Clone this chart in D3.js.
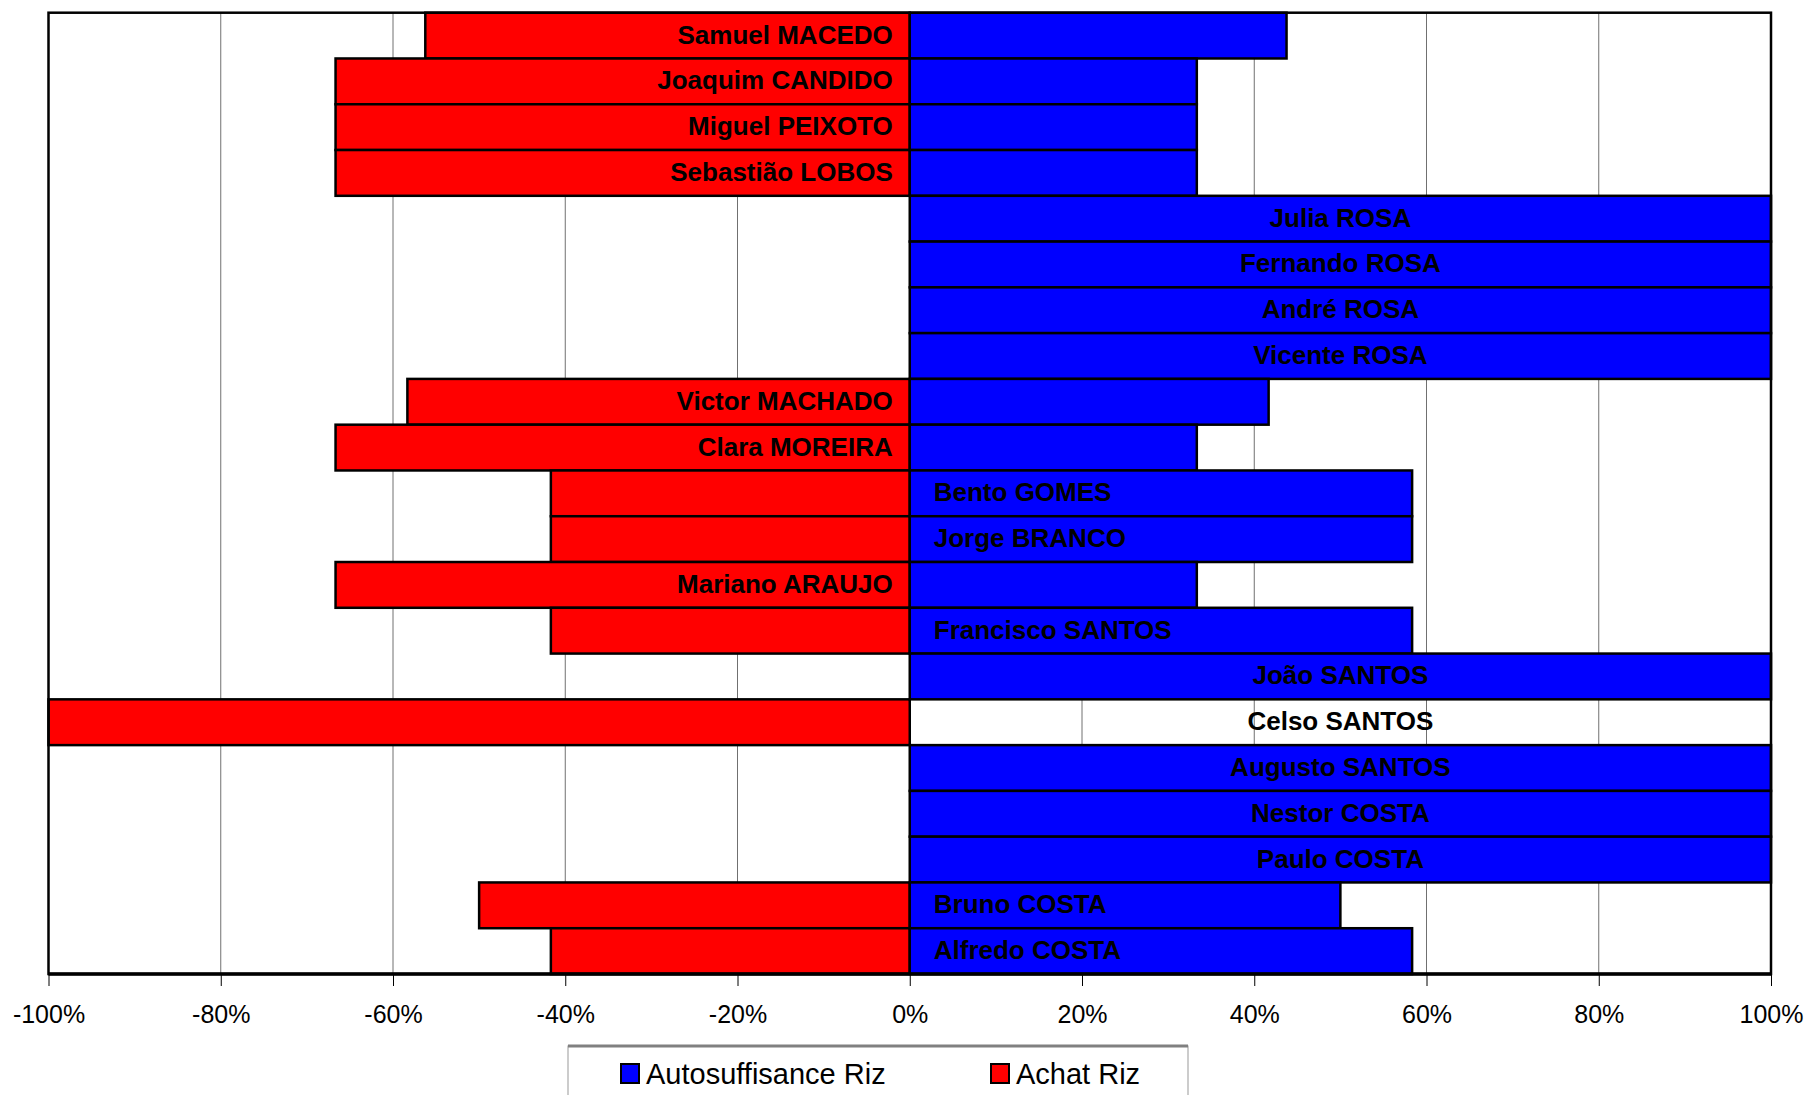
<!DOCTYPE html>
<html>
<head>
<meta charset="utf-8">
<script src="https://cdn.jsdelivr.net/npm/d3@7"></script>
<style>
  html, body { margin: 0; padding: 0; background: #fff; }
  svg { display: block; }
  text { font-family: "Liberation Sans", Arial, sans-serif; }
</style>
</head>
<body>
<svg id="chart" width="1809" height="1095"></svg>
<script>
// ---- data ----
const categories = [
  "Samuel MACEDO", "Joaquim CANDIDO", "Miguel PEIXOTO", "Sebastião LOBOS",
  "Julia ROSA", "Fernando ROSA", "André ROSA", "Vicente ROSA",
  "Victor MACHADO", "Clara MOREIRA", "Bento GOMES", "Jorge BRANCO",
  "Mariano ARAUJO", "Francisco SANTOS", "João SANTOS", "Celso SANTOS",
  "Augusto SANTOS", "Nestor COSTA", "Paulo COSTA", "Bruno COSTA", "Alfredo COSTA"
];
const autosuffisance = [
  0.4375, 0.3333, 0.3333, 0.3333,
  1, 1, 1, 1,
  0.4167, 0.3333, 0.5833, 0.5833,
  0.3333, 0.5833, 1, 0,
  1, 1, 1, 0.5, 0.5833
];
const achat = [
  -0.5625, -0.6667, -0.6667, -0.6667,
  0, 0, 0, 0,
  -0.5833, -0.6667, -0.4167, -0.4167,
  -0.6667, -0.4167, 0, -1,
  0, 0, 0, -0.5, -0.4167
];
const tickValues = [-1, -0.8, -0.6, -0.4, -0.2, 0, 0.2, 0.4, 0.6, 0.8, 1];
const tickLabels = ["-100%", "-80%", "-60%", "-40%", "-20%", "0%", "20%", "40%", "60%", "80%", "100%"];
const seriesNames = ["Autosuffisance Riz", "Achat Riz"];
const seriesColors = ["#0000FF", "#FF0000"];

// ---- layout ----
const svg = d3.select("#chart");
const pLeft = 48.5, pRight = 1771, pTop = 12.7, pBottom = 974;

const x = d3.scaleLinear().domain([-1, 1]).range([pLeft, pRight]);
const y = d3.scaleBand().domain(categories).range([pTop, pBottom]).paddingInner(0).paddingOuter(0);

// gridlines
svg.append("g").selectAll("line").data(tickValues).join("line")
  .attr("x1", d => x(d)).attr("x2", d => x(d))
  .attr("y1", pTop).attr("y2", pBottom)
  .attr("stroke", "#707070").attr("stroke-width", 1);

// bars
const rows = categories.map((c, i) => ({ c, blue: autosuffisance[i], red: achat[i] }));

svg.append("g").selectAll("rect").data(rows.filter(d => d.red !== 0)).join("rect")
  .attr("x", d => x(d.red)).attr("width", d => x(0) - x(d.red))
  .attr("y", d => y(d.c)).attr("height", y.bandwidth())
  .attr("fill", seriesColors[1]).attr("stroke", "#000").attr("stroke-width", 2.5);

svg.append("g").selectAll("rect").data(rows.filter(d => d.blue !== 0)).join("rect")
  .attr("x", x(0)).attr("width", d => x(d.blue) - x(0))
  .attr("y", d => y(d.c)).attr("height", y.bandwidth())
  .attr("fill", seriesColors[0]).attr("stroke", "#000").attr("stroke-width", 2.5);

// plot border
svg.append("rect")
  .attr("x", pLeft).attr("y", pTop).attr("width", pRight - pLeft).attr("height", pBottom - pTop)
  .attr("fill", "none").attr("stroke", "#000").attr("stroke-width", 2.5);
svg.append("line").attr("x1", pLeft).attr("x2", pRight).attr("y1", pBottom).attr("y2", pBottom)
  .attr("stroke", "#000").attr("stroke-width", 3.5);

// labels
svg.append("g").selectAll("text").data(rows).join("text")
  .attr("x", d => {
    if (d.blue === 1 || d.red === -1) return x(0.5);
    if (d.blue >= -d.red) return x(0) + 24;
    return x(0) - 17;
  })
  .attr("text-anchor", d => {
    if (d.blue === 1 || d.red === -1) return "middle";
    if (d.blue >= -d.red) return "start";
    return "end";
  })
  .attr("y", d => y(d.c) + y.bandwidth() / 2 + 8)
  .attr("font-size", 26).attr("font-weight", "bold").attr("fill", "#000")
  .text(d => d.c);

// x axis
const axis = d3.axisBottom(x).tickValues(tickValues)
  .tickFormat((d, i) => tickLabels[i]).tickSize(12).tickPadding(19);
const ax = svg.append("g").attr("transform", `translate(0,${pBottom})`).call(axis);
ax.select(".domain").remove();
ax.selectAll(".tick line").attr("stroke", "#000").attr("stroke-width", 1);
ax.selectAll(".tick text").attr("font-size", 25).attr("fill", "#000")
  .attr("font-family", "'Liberation Sans', Arial, sans-serif");

// legend
const lg = svg.append("g");
lg.append("rect").attr("x", 568).attr("y", 1046).attr("width", 620).attr("height", 80)
  .attr("fill", "#fff").attr("stroke", "#999").attr("stroke-width", 1);
lg.append("line").attr("x1", 568).attr("x2", 1188).attr("y1", 1046).attr("y2", 1046)
  .attr("stroke", "#808080").attr("stroke-width", 3);
const legendX = [621, 991];
seriesNames.forEach((name, i) => {
  lg.append("rect").attr("x", legendX[i]).attr("y", 1064).attr("width", 18).attr("height", 19)
    .attr("fill", seriesColors[i]).attr("stroke", "#000").attr("stroke-width", 2);
  lg.append("text").attr("x", legendX[i] + 25).attr("y", 1084)
    .attr("font-size", 29).attr("fill", "#000").text(name);
});
</script>
</body>
</html>
